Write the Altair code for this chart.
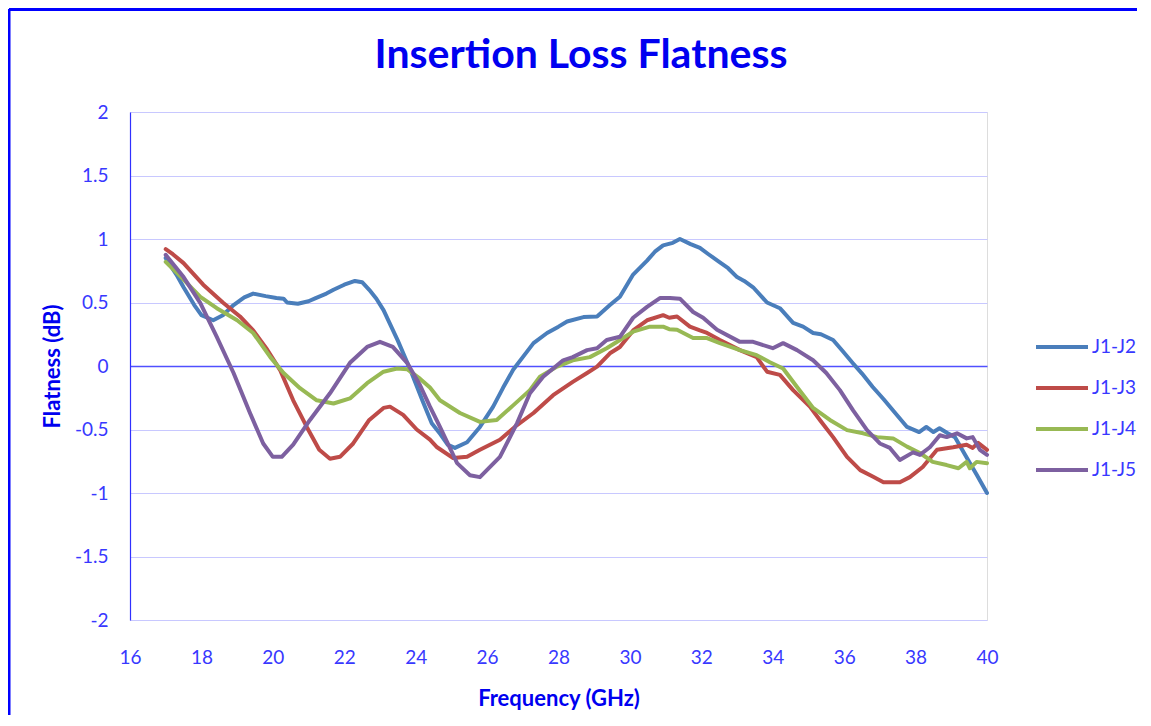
import altair as alt
import pandas as pd

series_names = ["J1-J2", "J1-J3", "J1-J4", "J1-J5"]
series_colors = ["#4A7EBB", "#BE4B48", "#98B954", "#7D60A0"]

j2_freq = [17.0, 17.3, 17.5, 17.8, 18.0, 18.33, 18.6, 18.9, 19.2, 19.45, 19.8, 20.1, 20.3, 20.4, 20.7,
           21.0, 21.2, 21.5, 21.7, 22.0, 22.3, 22.5, 22.7, 22.9, 23.1, 23.3, 23.5, 23.85, 24.2, 24.45,
           24.7, 24.9, 25.1, 25.44, 25.8, 26.17, 26.45, 26.73, 27.0, 27.3, 27.68, 28.0, 28.24, 28.7,
           29.08, 29.44, 29.72, 30.09, 30.48, 30.7, 30.93, 31.2, 31.4, 31.7, 31.96, 32.2, 32.5, 32.75,
           33.0, 33.2, 33.45, 33.84, 34.2, 34.57, 34.85, 35.13, 35.35, 35.69, 35.95, 36.25, 36.5, 36.8,
           37.1, 37.37, 37.76, 38.1, 38.3, 38.5, 38.67, 38.9, 39.1, 39.43, 39.7, 40.0]
j2_val = [0.85, 0.72, 0.62, 0.48, 0.40, 0.36, 0.40, 0.48, 0.54, 0.57, 0.55, 0.535, 0.53, 0.50, 0.49,
          0.51, 0.535, 0.57, 0.60, 0.64, 0.67, 0.66, 0.60, 0.53, 0.44, 0.32, 0.20, -0.03, -0.28, -0.45,
          -0.54, -0.62, -0.645, -0.60, -0.48, -0.32, -0.17, -0.03, 0.07, 0.18, 0.26, 0.31, 0.35, 0.385,
          0.39, 0.48, 0.545, 0.72, 0.83, 0.90, 0.95, 0.97, 1.0, 0.96, 0.93, 0.88, 0.82, 0.77,
          0.70, 0.67, 0.62, 0.50, 0.455, 0.34, 0.31, 0.26, 0.25, 0.205, 0.12, 0.02, -0.06, -0.165,
          -0.26, -0.35, -0.48, -0.52, -0.48, -0.52, -0.49, -0.53, -0.56, -0.72, -0.85, -1.0]

j3_freq = [17.0, 17.2, 17.5, 18.05, 18.6, 19.08, 19.45, 19.84, 20.2, 20.57, 20.95, 21.3, 21.6, 21.88,
           22.25, 22.7, 23.1, 23.28, 23.65, 24.03, 24.4, 24.6, 25.05, 25.44, 25.8, 26.36, 26.84, 27.3,
           27.85, 28.4, 28.8, 29.08, 29.44, 29.72, 30.09, 30.48, 30.93, 31.1, 31.32, 31.68, 31.96,
           32.16, 32.52, 33.08, 33.55, 33.84, 34.2, 34.57, 35.04, 35.32, 35.69, 36.08, 36.45, 36.8,
           37.1, 37.56, 37.84, 38.2, 38.6, 39.05, 39.43, 39.6, 39.75, 40.0]
j3_val = [0.92, 0.88, 0.81, 0.64, 0.50, 0.39, 0.28, 0.13, -0.03, -0.27, -0.48, -0.66, -0.73, -0.715,
          -0.61, -0.425, -0.33, -0.32, -0.385, -0.50, -0.58, -0.64, -0.725, -0.715, -0.66, -0.58, -0.465, -0.37,
          -0.23, -0.125, -0.055, -0.005, 0.10, 0.15, 0.28, 0.36, 0.40, 0.38, 0.39, 0.31, 0.28,
          0.26, 0.205, 0.125, 0.07, -0.045, -0.07, -0.19, -0.32, -0.425, -0.56, -0.715, -0.82, -0.87,
          -0.915, -0.915, -0.875, -0.795, -0.66, -0.64, -0.62, -0.645, -0.605, -0.66]

j4_freq = [17.0, 17.5, 17.97, 18.43, 19.0, 19.45, 19.93, 20.3, 20.76, 21.23, 21.7, 22.16, 22.64, 23.1,
           23.48, 23.76, 24.12, 24.4, 24.68, 25.24, 25.8, 26.27, 26.73, 27.2, 27.48, 27.96, 28.4, 28.88,
           29.35, 29.72, 30.09, 30.56, 30.93, 31.1, 31.32, 31.77, 32.16, 32.52, 33.08, 33.55, 33.92,
           34.29, 34.68, 35.13, 35.6, 36.08, 36.53, 36.92, 37.37, 37.76, 38.12, 38.48, 38.87, 39.2,
           39.43, 39.52, 39.71, 40.0]
j4_val = [0.82, 0.68, 0.545, 0.455, 0.36, 0.26, 0.07, -0.055, -0.175, -0.27, -0.295, -0.255, -0.135, -0.045,
          -0.02, -0.025, -0.10, -0.17, -0.27, -0.37, -0.44, -0.425, -0.31, -0.19, -0.085, -0.005, 0.045, 0.07,
          0.14, 0.205, 0.27, 0.31, 0.31, 0.29, 0.285, 0.22, 0.22, 0.18, 0.125, 0.085, 0.03,
          -0.02, -0.165, -0.33, -0.425, -0.505, -0.53, -0.56, -0.57, -0.635, -0.685, -0.755, -0.78, -0.805,
          -0.755, -0.805, -0.755, -0.765]

j5_freq = [17.0, 17.5, 17.97, 18.43, 18.9, 19.36, 19.73, 20.0, 20.25, 20.57, 21.04, 21.6, 22.16, 22.64,
           23.0, 23.36, 23.76, 24.12, 24.4, 24.68, 25.16, 25.52, 25.8, 26.36, 26.84, 27.2, 27.57, 28.13,
           28.4, 28.8, 29.08, 29.35, 29.72, 30.09, 30.48, 30.84, 31.12, 31.4, 31.77, 32.05, 32.44,
           33.08, 33.45, 34.0, 34.29, 34.68, 35.13, 35.5, 35.88, 36.25, 36.64, 37.0, 37.28, 37.56,
           37.93, 38.12, 38.4, 38.68, 38.87, 39.16, 39.43, 39.6, 39.8, 40.0]
j5_val = [0.875, 0.70, 0.495, 0.23, -0.055, -0.37, -0.61, -0.715, -0.715, -0.62, -0.425, -0.215, 0.025, 0.15,
          0.19, 0.15, 0.025, -0.15, -0.32, -0.48, -0.765, -0.86, -0.875, -0.715, -0.45, -0.215, -0.085, 0.045,
          0.07, 0.125, 0.14, 0.205, 0.23, 0.38, 0.465, 0.535, 0.535, 0.53, 0.425, 0.38, 0.285,
          0.19, 0.19, 0.14, 0.18, 0.125, 0.045, -0.055, -0.19, -0.35, -0.505, -0.61, -0.645, -0.74,
          -0.68, -0.70, -0.64, -0.545, -0.56, -0.53, -0.57, -0.56, -0.66, -0.70]

x_ticks = [16, 18, 20, 22, 24, 26, 28, 30, 32, 34, 36, 38, 40]
y_ticks = [-2, -1.5, -1, -0.5, 0, 0.5, 1, 1.5, 2]

rows = []
for name, fs, vs in zip(series_names,
                        [j2_freq, j3_freq, j4_freq, j5_freq],
                        [j2_val, j3_val, j4_val, j5_val]):
    for f, v in zip(fs, vs):
        rows.append({"freq": f, "flat": v, "series": name})
df = pd.DataFrame(rows)

FONT = "Lato"
LABEL_BLUE = "#3838ff"
TITLE_BLUE = "#0000f0"

lines = alt.Chart(df).mark_line(strokeWidth=4, strokeCap="round", strokeJoin="round").encode(
    x=alt.X("freq:Q",
            scale=alt.Scale(domain=[16, 40], nice=False, zero=False),
            axis=alt.Axis(values=x_ticks, title="Frequency (GHz)", grid=False, domain=False,
                          ticks=False, labelPadding=28, labelFont=FONT, labelFontSize=19,
                          labelColor=LABEL_BLUE, labelExpr="'' + datum.value",
                          labelFlush=False, labelOverlap=False, labelBound=False,
                          titleFont=FONT, titleFontSize=22, titleFontWeight="bold",
                          titleColor=TITLE_BLUE, titleY=78, titleBaseline="middle")),
    y=alt.Y("flat:Q",
            scale=alt.Scale(domain=[-2, 2], nice=False),
            axis=alt.Axis(values=y_ticks, title="Flatness (dB)", grid=True,
                          gridColor={"condition": {"test": "datum.value === 0", "value": "#5050ff"},
                                     "value": "#c8c8ff"},
                          gridWidth={"condition": {"test": "datum.value === 0", "value": 1.5},
                                     "value": 1},
                          domain=True, domainColor="#3030ff", domainWidth=1.2,
                          ticks=False, labelPadding=22, labelFont=FONT, labelFontSize=19,
                          labelColor=LABEL_BLUE, labelExpr="'' + datum.value",
                          labelFlush=False, labelOverlap=False,
                          titleFont=FONT, titleFontSize=22, titleFontWeight="bold",
                          titleColor=TITLE_BLUE, titleX=-78, titleY=254, titleAngle=-90,
                          titleBaseline="middle", titleAlign="center")),
    color=alt.Color("series:N",
                    scale=alt.Scale(domain=series_names, range=series_colors),
                    legend=alt.Legend(title=None, orient="none", legendX=904, legendY=207,
                                      symbolType="stroke", symbolSize=2704, symbolStrokeWidth=4,
                                      labelFont=FONT, labelFontSize=19, labelColor=LABEL_BLUE,
                                      labelOffset=2, rowPadding=3)),
)

one = pd.DataFrame({"k": [0]})
frame_v = alt.Chart(one).mark_rule(color="#0000ff", strokeWidth=3).encode(
    x=alt.value(-121), y=alt.value(-103), y2=alt.value(640))
frame_h = alt.Chart(one).mark_rule(color="#0000ff", strokeWidth=3).encode(
    x=alt.value(-121), x2=alt.value(1040), y=alt.value(-102.5))
title = alt.Chart(one).mark_text(text="Insertion Loss Flatness", font=FONT, fontSize=41,
                                 fontWeight="bold", color=TITLE_BLUE, align="center",
                                 baseline="middle").encode(x=alt.value(451), y=alt.value(-56))

chart = alt.layer(lines, frame_v, frame_h, title).properties(
    width=857, height=508,
    autosize=alt.AutoSizeParams(type="none"),
    padding={"left": 122, "top": 104, "right": 150, "bottom": 95},
).configure_view(strokeWidth=0).configure(background="white")

chart.save("out.html", embed_options={"renderer": "svg", "actions": False})
